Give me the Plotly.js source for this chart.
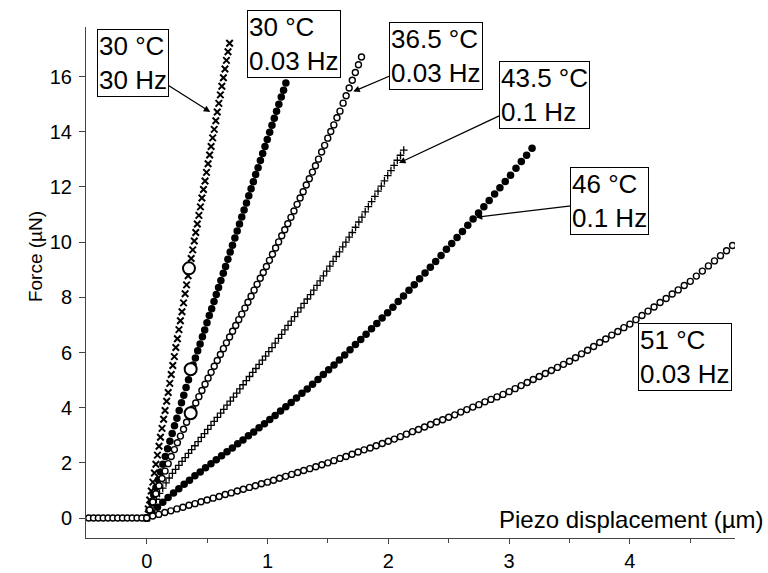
<!DOCTYPE html>
<html>
<head>
<meta charset="utf-8">
<script src="https://cdn.plot.ly/plotly-3.0.1.min.js"></script>
<style>
  html, body { margin: 0; padding: 0; background: #fff; }
  #chart { width: 768px; height: 573px; }
</style>
</head>
<body>
<div id="chart"></div>
<script>
// Force vs piezo displacement, one series per temperature / frequency.

// 30 °C, 30 Hz (× markers)
const x30Hz = [0, 0.013, 0.025, 0.038, 0.051, 0.064, 0.076, 0.089, 0.102, 0.114, 0.127, 0.140, 0.152, 0.165, 0.178, 0.191, 0.203, 0.216, 0.229, 0.241, 0.254, 0.267, 0.279, 0.292, 0.305, 0.318, 0.330, 0.343, 0.356,
  0.368, 0.381, 0.394, 0.406, 0.419, 0.432, 0.445, 0.457, 0.470, 0.483, 0.495, 0.508, 0.521, 0.533, 0.546, 0.559, 0.572, 0.584, 0.597, 0.610, 0.622, 0.635, 0.648, 0.660, 0.673, 0.686];
const f30Hz = [0, 0.33, 0.65, 0.98, 1.30, 1.63, 1.95, 2.28, 2.60, 2.93, 3.25, 3.58, 3.90, 4.23, 4.55, 4.88, 5.20, 5.53, 5.85, 6.18, 6.50, 6.83, 7.15, 7.48, 7.80, 8.13, 8.45, 8.78, 9.10,
  9.41, 9.72, 10.04, 10.35, 10.66, 10.97, 11.28, 11.60, 11.91, 12.22, 12.53, 12.84, 13.16, 13.47, 13.78, 14.09, 14.40, 14.72, 15.03, 15.34, 15.65, 15.96, 16.28, 16.59, 16.90, 17.21];

// 30 °C, 0.03 Hz (filled circles)
const x30 = [0.000, 0.019, 0.038, 0.058, 0.077, 0.096, 0.115, 0.134, 0.154, 0.173, 0.192, 0.211, 0.230, 0.250, 0.269, 0.288, 0.307, 0.326, 0.346, 0.365,
  0.384, 0.403, 0.422, 0.442, 0.461, 0.480, 0.499, 0.518, 0.538, 0.557, 0.576, 0.595, 0.614, 0.634, 0.653, 0.672, 0.691, 0.710, 0.730, 0.749,
  0.768, 0.787, 0.806, 0.826, 0.845, 0.864, 0.883, 0.902, 0.922, 0.941, 0.960, 0.979, 0.998, 1.018, 1.037, 1.056, 1.075, 1.094, 1.114, 1.133, 1.152];
const f30 = [0.00, 0.28, 0.56, 0.84, 1.11, 1.39, 1.67, 1.95, 2.23, 2.51, 2.78, 3.06, 3.34, 3.62, 3.90, 4.18, 4.45, 4.73, 5.01, 5.29,
  5.55, 5.80, 6.06, 6.31, 6.57, 6.82, 7.08, 7.34, 7.59, 7.85, 8.10, 8.36, 8.61, 8.87, 9.12, 9.38, 9.64, 9.89, 10.15, 10.40,
  10.66, 10.91, 11.17, 11.42, 11.68, 11.94, 12.19, 12.45, 12.70, 12.96, 13.21, 13.47, 13.72, 13.98, 14.24, 14.49, 14.75, 15.00, 15.26, 15.51, 15.77];

// 36.5 °C, 0.03 Hz (open circles)
const x365 = [0, 0.025, 0.051, 0.076, 0.102, 0.127, 0.152, 0.178, 0.203, 0.229, 0.254, 0.279, 0.305, 0.330, 0.356, 0.381, 0.406, 0.432, 0.457, 0.483,
  0.508, 0.533, 0.559, 0.584, 0.610, 0.635, 0.660, 0.686, 0.711, 0.737, 0.762, 0.787, 0.813, 0.838, 0.864, 0.889, 0.914, 0.940, 0.965, 0.991,
  1.016, 1.041, 1.067, 1.092, 1.118, 1.143, 1.168, 1.194, 1.219, 1.245, 1.270, 1.295, 1.321, 1.346, 1.372, 1.397, 1.422, 1.448, 1.473, 1.499,
  1.524, 1.549, 1.575, 1.600, 1.626, 1.651, 1.676, 1.702, 1.727, 1.753, 1.778];
const f365 = [0, 0.29, 0.58, 0.88, 1.17, 1.43, 1.70, 1.97, 2.23, 2.48, 2.73, 2.97, 3.22, 3.47, 3.72, 3.95, 4.17, 4.40, 4.62, 4.85,
  5.07, 5.28, 5.50, 5.71, 5.93, 6.14, 6.35, 6.56, 6.77, 6.98, 7.19, 7.39, 7.61, 7.82, 8.04, 8.26, 8.47, 8.69, 8.90, 9.12,
  9.34, 9.56, 9.79, 10.01, 10.23, 10.45, 10.67, 10.90, 11.13, 11.37, 11.60, 11.83, 12.07, 12.30, 12.54, 12.77, 13.01, 13.27, 13.51, 13.77,
  14.01, 14.25, 14.51, 14.75, 15.04, 15.31, 15.59, 15.87, 16.15, 16.43, 16.71];

// 43.5 °C, 0.1 Hz (+ markers)
const x435 = [0.000, 0.027, 0.053, 0.080, 0.106, 0.133, 0.160, 0.186, 0.213, 0.239, 0.266, 0.293, 0.319, 0.346, 0.372, 0.399, 0.426, 0.452, 0.479, 0.505,
  0.532, 0.559, 0.585, 0.612, 0.638, 0.665, 0.692, 0.718, 0.745, 0.771, 0.798, 0.825, 0.851, 0.878, 0.904, 0.931, 0.958, 0.984, 1.011, 1.037,
  1.064, 1.091, 1.117, 1.144, 1.170, 1.197, 1.224, 1.250, 1.277, 1.303, 1.330, 1.357, 1.383, 1.410, 1.436, 1.463, 1.490, 1.516, 1.543, 1.569,
  1.596, 1.623, 1.649, 1.676, 1.702, 1.729, 1.756, 1.782, 1.809, 1.835, 1.862, 1.889, 1.915, 1.942, 1.968, 1.995, 2.022, 2.048, 2.075, 2.101, 2.128];
const f435 = [0, 0.23, 0.45, 0.68, 0.89, 1.08, 1.27, 1.45, 1.62, 1.76, 1.91, 2.05, 2.19, 2.34, 2.48, 2.62, 2.77, 2.92, 3.06, 3.21,
  3.36, 3.50, 3.65, 3.80, 3.94, 4.09, 4.24, 4.38, 4.53, 4.68, 4.83, 4.98, 5.13, 5.28, 5.42, 5.57, 5.72, 5.87, 6.03, 6.18,
  6.34, 6.51, 6.66, 6.82, 6.98, 7.14, 7.30, 7.46, 7.62, 7.78, 7.94, 8.10, 8.26, 8.43, 8.60, 8.78, 8.95, 9.13, 9.30, 9.48,
  9.65, 9.83, 10.00, 10.18, 10.35, 10.54, 10.73, 10.91, 11.10, 11.29, 11.47, 11.66, 11.85, 12.03, 12.22, 12.41, 12.59, 12.78, 12.97, 13.15, 13.34];

// 46 °C, 0.1 Hz (filled circles)
const x46 = [0, 0.044, 0.089, 0.133, 0.177, 0.222, 0.266, 0.310, 0.354, 0.399, 0.443, 0.487, 0.532, 0.576, 0.620, 0.665, 0.709, 0.753, 0.797, 0.842,
  0.886, 0.930, 0.975, 1.019, 1.063, 1.108, 1.152, 1.196, 1.240, 1.285, 1.329, 1.373, 1.418, 1.462, 1.506, 1.551, 1.595, 1.639, 1.683, 1.728,
  1.772, 1.816, 1.861, 1.905, 1.949, 1.994, 2.038, 2.082, 2.126, 2.171, 2.215, 2.259, 2.304, 2.348, 2.392, 2.437, 2.481, 2.525, 2.569, 2.614,
  2.658, 2.702, 2.747, 2.791, 2.835, 2.880, 2.924, 2.968, 3.012, 3.057, 3.101, 3.145, 3.190];
const f46 = [0, 0.19, 0.39, 0.57, 0.74, 0.91, 1.06, 1.22, 1.37, 1.53, 1.67, 1.82, 1.97, 2.11, 2.26, 2.40, 2.54, 2.69, 2.83, 2.98,
  3.12, 3.27, 3.42, 3.57, 3.72, 3.88, 4.03, 4.19, 4.35, 4.52, 4.68, 4.85, 5.02, 5.20, 5.37, 5.55, 5.73, 5.91, 6.10, 6.29,
  6.47, 6.66, 6.86, 7.05, 7.25, 7.44, 7.64, 7.85, 8.05, 8.26, 8.46, 8.67, 8.88, 9.09, 9.30, 9.52, 9.74, 9.95, 10.17, 10.39,
  10.61, 10.84, 11.06, 11.28, 11.51, 11.75, 11.97, 12.20, 12.43, 12.68, 12.92, 13.15, 13.40];

// 51 °C, 0.03 Hz (open circles), including the flat approach before contact
const x51 = [-0.48, -0.44, -0.40, -0.36, -0.32, -0.28, -0.24, -0.20, -0.16, -0.12, -0.08, -0.04,
  0, 0.05, 0.10, 0.15, 0.20, 0.25, 0.30, 0.35, 0.40, 0.45, 0.50, 0.55, 0.60, 0.65, 0.70, 0.75, 0.80, 0.85, 0.90, 0.95,
  1.00, 1.05, 1.10, 1.15, 1.20, 1.25, 1.30, 1.35, 1.40, 1.45, 1.50, 1.55, 1.60, 1.65, 1.70, 1.75, 1.80, 1.85, 1.90, 1.95,
  2.00, 2.05, 2.10, 2.15, 2.20, 2.25, 2.30, 2.35, 2.40, 2.45, 2.50, 2.55, 2.60, 2.65, 2.70, 2.75, 2.80, 2.85, 2.90, 2.95,
  3.00, 3.05, 3.10, 3.15, 3.20, 3.25, 3.30, 3.35, 3.40, 3.45, 3.50, 3.55, 3.60, 3.65, 3.70, 3.75, 3.80, 3.85, 3.90, 3.95,
  4.00, 4.05, 4.10, 4.15, 4.20, 4.25, 4.30, 4.35, 4.40, 4.45, 4.50, 4.55, 4.60, 4.65, 4.70, 4.75, 4.80, 4.85];
const f51 = [0, 0, 0, 0, 0, 0, 0, 0, 0, 0, 0, 0,
  0, 0.07, 0.13, 0.20, 0.26, 0.33, 0.39, 0.46, 0.52, 0.59, 0.65, 0.72, 0.78, 0.85, 0.91, 0.98, 1.04, 1.11, 1.17, 1.24,
  1.30, 1.37, 1.44, 1.51, 1.58, 1.65, 1.72, 1.79, 1.86, 1.93, 2.00, 2.08, 2.16, 2.23, 2.31, 2.39, 2.47, 2.54, 2.62, 2.70,
  2.78, 2.86, 2.95, 3.04, 3.13, 3.21, 3.30, 3.39, 3.48, 3.56, 3.65, 3.74, 3.84, 3.93, 4.02, 4.11, 4.21, 4.30, 4.39, 4.48,
  4.58, 4.69, 4.80, 4.91, 5.02, 5.13, 5.24, 5.35, 5.46, 5.57, 5.68, 5.81, 5.95, 6.08, 6.22, 6.36, 6.49, 6.63, 6.76, 6.90,
  7.03, 7.19, 7.34, 7.50, 7.65, 7.81, 7.96, 8.12, 8.27, 8.43, 8.58, 8.77, 8.95, 9.14, 9.32, 9.51, 9.69, 9.88];

// highlighted points at the same displacement on the three steepest curves
const markX = [0.350, 0.364, 0.364];
const markY = [9.05, 5.39, 3.80];

// tick values
const xTicks = [0, 1, 2, 3, 4];
const xMinorTicks = [0.5, 1.5, 2.5, 3.5, 4.5];
const yTicks = [0, 2, 4, 6, 8, 10, 12, 14, 16];

const FONT = '"Liberation Sans", Arial, sans-serif';
const INK = '#000';

const openCircle = { symbol: 'circle', size: 6, color: '#fff', line: { color: INK, width: 1.4 } };
const dot = { symbol: 'circle', size: 7.5, color: INK, line: { width: 0 } };

const traces = [
  { x: x30Hz, y: f30Hz, mode: 'markers', marker: { symbol: 'x-thin', size: 6.5, line: { color: INK, width: 2 } } },
  { x: x435, y: f435, mode: 'markers', marker: { symbol: 'cross-thin', size: 5.5, line: { color: INK, width: 1.3 } } },
  { x: x46, y: f46, mode: 'markers', marker: dot },
  { x: x30, y: f30, mode: 'markers', marker: dot },
  { x: x365, y: f365, mode: 'markers', marker: openCircle },
  { x: x51, y: f51, mode: 'markers', marker: openCircle },
  { x: markX, y: markY, mode: 'markers', marker: { symbol: 'circle', size: 12, color: '#fff', line: { color: INK, width: 2 } } }
];

function label(text, bx, by, hx, hy) {
  const a = {
    text: text, align: 'left', xref: 'x', yref: 'y',
    font: { family: FONT, size: 26, color: INK },
    bgcolor: '#fff', bordercolor: INK, borderwidth: 1, borderpad: 1
  };
  if (hx === undefined) {
    return Object.assign(a, { x: bx, y: by, showarrow: false });
  }
  return Object.assign(a, {
    x: hx, y: hy, ax: bx, ay: by, axref: 'x', ayref: 'y', showarrow: true,
    arrowhead: 2, arrowsize: 1, arrowwidth: 1.3, arrowcolor: INK, standoff: 0
  });
}

const annotations = [
  label('30 °C<br>30 Hz', -0.113, 16.50, 0.526, 14.72),
  label('30 °C<br>0.03 Hz', 1.219, 17.20),
  label('36.5 °C<br>0.03 Hz', 2.397, 16.74, 1.710, 15.46),
  label('43.5 °C<br>0.1 Hz', 3.295, 15.35, 2.089, 12.87),
  label('46 °C<br>0.1 Hz', 3.835, 11.49, 2.724, 10.90),
  label('51 °C<br>0.03 Hz', 4.456, 5.82),
  {
    text: 'Piezo displacement (µm)', xref: 'paper', yref: 'y', x: 1, y: -0.06,
    xanchor: 'right', yanchor: 'middle', xshift: 31, showarrow: false,
    font: { family: FONT, size: 24, color: INK }
  },
  {
    text: 'Force (µN)', xref: 'paper', yref: 'y', x: 0, y: 9.46, xshift: -51,
    xanchor: 'center', yanchor: 'middle', textangle: -90, showarrow: false,
    font: { family: FONT, size: 19, color: INK }
  }
];

const axisCommon = {
  showgrid: false, zeroline: false, showline: true, linecolor: '#444', linewidth: 1,
  ticks: 'outside', tickcolor: '#444', tickwidth: 1,
  tickfont: { family: FONT, size: 20, color: INK }
};

const layout = {
  width: 768, height: 573,
  margin: { l: 86, r: 33, t: 27, b: 35, pad: 0 },
  paper_bgcolor: '#fff', plot_bgcolor: '#fff',
  showlegend: false,
  xaxis: Object.assign({}, axisCommon, {
    range: [-0.5025, 4.870], tickmode: 'array', tickvals: xTicks, ticktext: xTicks.map(String), ticklen: 5,
    minor: { tickmode: 'array', tickvals: xMinorTicks, ticks: 'outside', ticklen: 4, tickcolor: '#444' }
  }),
  yaxis: Object.assign({}, axisCommon, {
    range: [-0.725, 17.80], tickmode: 'array', tickvals: yTicks, ticktext: yTicks.map(String), ticklen: 6,
    ticklabelstandoff: 3
  }),
  annotations: annotations
};

Plotly.newPlot('chart', traces, layout, { staticPlot: true, displayModeBar: false });
</script>
</body>
</html>
